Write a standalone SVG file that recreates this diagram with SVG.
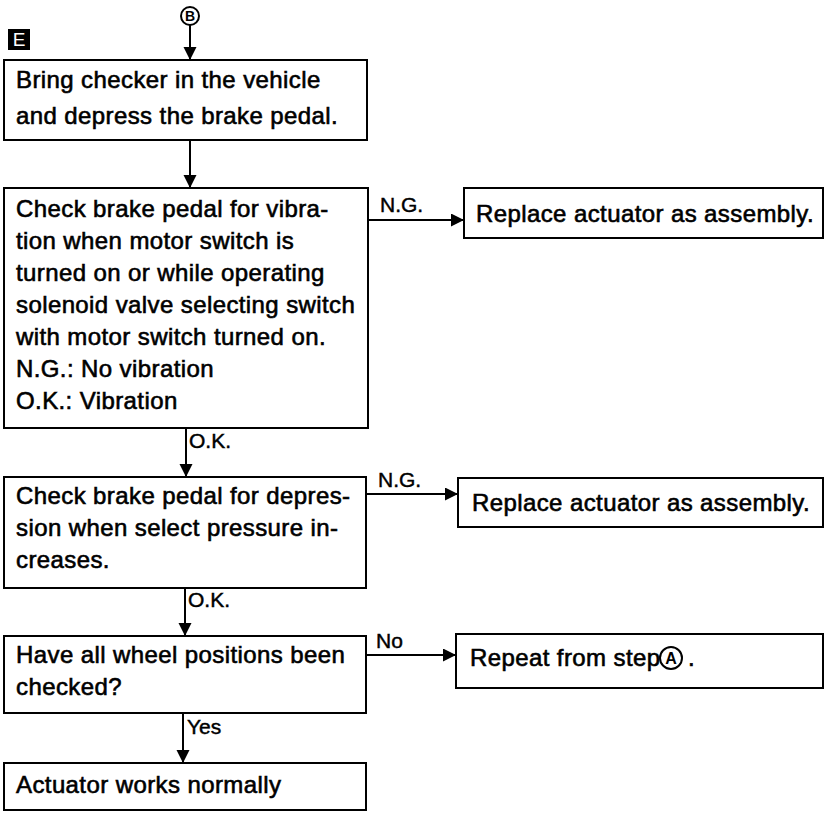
<svg xmlns="http://www.w3.org/2000/svg" width="825" height="813" viewBox="0 0 825 813">
<defs>
<marker id="arr" markerUnits="userSpaceOnUse" markerWidth="14" markerHeight="14" refX="13" refY="6.5" orient="auto">
<path d="M0,0 L13,6.5 L0,13 z" fill="#000"/>
</marker>
<style>
.box{fill:#fff;stroke:#000;stroke-width:2}
.t{font-family:"Liberation Sans",Arial,Helvetica,sans-serif;font-size:24px;letter-spacing:0.4px;fill:#000;stroke:#000;stroke-width:0.6}
.l{font-family:"Liberation Sans",Arial,Helvetica,sans-serif;font-size:21px;fill:#000;stroke:#000;stroke-width:0.45}
.c{fill:none;stroke:#000;stroke-width:2;marker-end:url(#arr)}
</style>
</defs>
<rect width="825" height="813" fill="#fff"/>
<g id="markerB">
<circle cx="190" cy="16" r="9" fill="#fff" stroke="#000" stroke-width="2"/>
<text x="190" y="21" text-anchor="middle" style="font-family:'Liberation Sans',Arial,sans-serif;font-size:14px;font-weight:bold">B</text>
</g>
<g id="labelE">
<rect x="8" y="29" width="22" height="21" fill="#000"/>
<text x="19" y="46" text-anchor="middle" style="font-family:'Liberation Sans',Arial,sans-serif;font-size:19px;fill:#fff">E</text>
</g>
<g id="n1">
<rect class="box" x="4" y="60" width="363" height="80"/>
<text class="t" x="16" y="88">Bring checker in the vehicle</text>
<text class="t" x="16" y="124">and depress the brake pedal.</text>
</g>
<g id="n2">
<rect class="box" x="4" y="188" width="364" height="240"/>
<text class="t" x="16" y="217">Check brake pedal for vibra-</text>
<text class="t" x="16" y="249">tion when motor switch is</text>
<text class="t" x="16" y="281">turned on or while operating</text>
<text class="t" x="16" y="313">solenoid valve selecting switch</text>
<text class="t" x="16" y="345">with motor switch turned on.</text>
<text class="t" x="16" y="377">N.G.: No vibration</text>
<text class="t" x="16" y="409">O.K.: Vibration</text>
</g>
<g id="r1">
<rect class="box" x="464" y="188" width="359" height="50"/>
<text class="t" x="476" y="222">Replace actuator as assembly.</text>
</g>
<g id="n3">
<rect class="box" x="4" y="477" width="362" height="111"/>
<text class="t" x="16" y="504">Check brake pedal for depres-</text>
<text class="t" x="16" y="536">sion when select pressure in-</text>
<text class="t" x="16" y="568">creases.</text>
</g>
<g id="r2">
<rect class="box" x="458" y="478" width="365" height="49"/>
<text class="t" x="472" y="511">Replace actuator as assembly.</text>
</g>
<g id="n4">
<rect class="box" x="4" y="636" width="362" height="77"/>
<text class="t" x="16" y="663">Have all wheel positions been</text>
<text class="t" x="16" y="695">checked?</text>
</g>
<g id="r3">
<rect class="box" x="456" y="634" width="367" height="54"/>
<text class="t" x="470" y="666">Repeat from step</text>
<circle cx="671" cy="658" r="11" fill="none" stroke="#000" stroke-width="2"/>
<text x="671" y="664" text-anchor="middle" style="font-family:'Liberation Sans',Arial,sans-serif;font-size:16px;font-weight:bold">A</text>
<text class="t" x="688" y="666">.</text>
</g>
<g id="n5">
<rect class="box" x="4" y="763" width="362" height="47"/>
<text class="t" x="16" y="793">Actuator works normally</text>
</g>
<g id="connectors">
<line class="c" x1="190" y1="25" x2="190" y2="60"/>
<line class="c" x1="190" y1="140" x2="190" y2="188"/>
<line class="c" x1="368" y1="220" x2="464" y2="220"/>
<line class="c" x1="186" y1="428" x2="186" y2="477"/>
<line class="c" x1="366" y1="494" x2="458" y2="494"/>
<line class="c" x1="185" y1="588" x2="185" y2="636"/>
<line class="c" x1="366" y1="655" x2="456" y2="655"/>
<line class="c" x1="183" y1="713" x2="183" y2="763"/>
<text class="l" x="380" y="212">N.G.</text>
<text class="l" x="189" y="448">O.K.</text>
<text class="l" x="378" y="487">N.G.</text>
<text class="l" x="188" y="607">O.K.</text>
<text class="l" x="376" y="648">No</text>
<text class="l" x="187" y="734">Yes</text>
</g>
</svg>
